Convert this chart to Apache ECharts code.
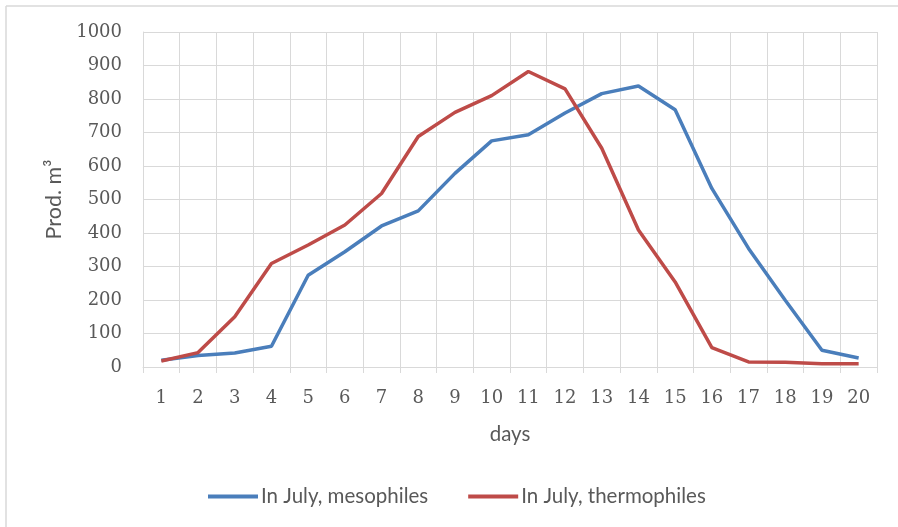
<!DOCTYPE html>
<html><head><meta charset="utf-8">
<script src="https://cdn.jsdelivr.net/npm/echarts@6/dist/echarts.min.js"></script>
<style>html,body{margin:0;padding:0;background:#fff}#c{width:898px;height:527px}</style>
</head><body><div id="c"></div>
<script>
const days = ['1','2','3','4','5','6','7','8','9','10','11','12','13','14','15','16','17','18','19','20'];
const mesophiles = [20,34,42,62,274,344,421,466,578,675,693,758,816,839,768,533,354,199,50,27];
const thermophiles = [18,43,150,309,364,424,518,688,760,810,882,830,653,409,254,58,15,14,10,10];
const yTicks = [0,100,200,300,400,500,600,700,800,900,1000];

const chart = echarts.init(document.getElementById('c'));
const grid = '#d9d9d9', txt = '#595959';
const sans = 'Lato';
chart.setOption({
  animation:false,
  backgroundColor:'#fff',
  graphic:[
    {type:'line',shape:{x1:6,y1:6,x2:898,y2:6},style:{stroke:'#d9d9d9',lineWidth:1.5},silent:true},
    {type:'line',shape:{x1:6,y1:6,x2:6,y2:527},style:{stroke:'#d9d9d9',lineWidth:1.5},silent:true}
  ],
  grid:{left:143,right:21,top:32,bottom:160},
  legend:{
    top:481,left:203,itemWidth:50,itemHeight:4,itemGap:40,
    icon:'rect',
    textStyle:{fontFamily:sans,fontSize:20.5,color:txt,padding:[0,0,0,-2]},
    data:['In July, mesophiles','In July, thermophiles']
  },
  xAxis:{
    type:'category',data:days,boundaryGap:true,
    name:'days',nameLocation:'middle',nameGap:57,
    nameTextStyle:{fontFamily:sans,fontSize:20.5,color:txt},
    axisLine:{lineStyle:{color:grid}},
    axisTick:{show:true,length:6,lineStyle:{color:grid}},
    axisLabel:{fontFamily:'DejaVu Serif',fontSize:18,color:txt,margin:22},
    splitLine:{show:true,lineStyle:{color:grid}}
  },
  yAxis:{
    type:'value',min:0,max:1000,interval:100,
    name:'Prod. m³',nameLocation:'middle',nameGap:78,nameRotate:90,
    nameTextStyle:{fontFamily:sans,fontSize:21.5,color:txt},
    axisLine:{show:true,lineStyle:{color:grid}},
    axisTick:{show:false},
    axisLabel:{fontFamily:'DejaVu Serif',fontSize:18,color:txt,margin:21,
      formatter:v=>yTicks.includes(v)?String(v):''},
    splitLine:{show:true,lineStyle:{color:grid}}
  },
  series:[
    {name:'In July, mesophiles',type:'line',data:mesophiles,symbol:'none',
     lineStyle:{width:3.5,color:'#4a7ebb'},itemStyle:{color:'#4a7ebb'}},
    {name:'In July, thermophiles',type:'line',data:thermophiles,symbol:'none',
     lineStyle:{width:3.5,color:'#be4b48'},itemStyle:{color:'#be4b48'}}
  ]
});
</script></body></html>
